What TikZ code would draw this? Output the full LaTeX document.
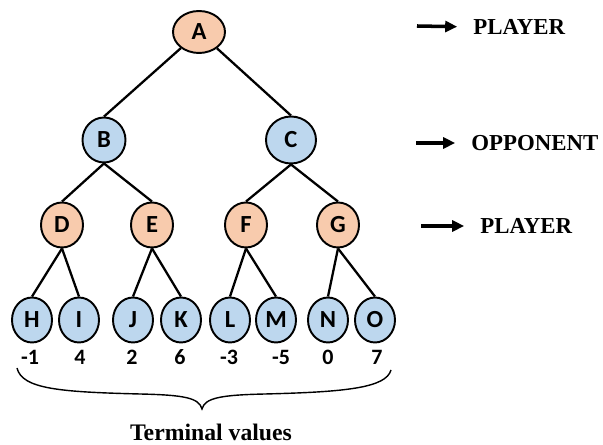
\documentclass[tikz,border=0pt]{standalone}
\usepackage{fontspec}
\setmainfont{Liberation Serif}
\newfontfamily\nodefont{Carlito}
\usetikzlibrary{arrows.meta,shapes.geometric}
\definecolor{maxOrange}{HTML}{F8CBAD}
\definecolor{minBlue}{HTML}{BDD7EE}

\begin{document}
\begin{tikzpicture}[x=0.02cm, y=-0.02cm,
  tnode/.style={draw, ellipse, line width=1.1pt, inner sep=1pt, minimum width=0.84cm, minimum height=0.9cm, font=\nodefont\bfseries\fontsize{14}{16}\selectfont},
  maxn/.style={tnode, fill=maxOrange},
  minn/.style={tnode, fill=minBlue},
  leaf/.style={minn, minimum width=0.8cm},
  link/.style={line width=1.3pt},
  val/.style={font=\nodefont\bfseries\fontsize{12.5}{14}\selectfont},
  role/.style={anchor=west, inner sep=0pt, font=\bfseries\fontsize{13}{15}\selectfont},
  pointer/.style={-{Triangle[length=2.4mm,width=2.2mm]}, line width=2pt, shorten >=9pt},
  bracecurve/.style={line width=0.8pt}
]
\useasboundingbox (0,0) rectangle (603,445);
% tree levels
\node[maxn, minimum width=1.04cm, minimum height=0.84cm] (A) at (199,32) {A};
\node[minn, minimum width=0.86cm] (B) at (104,140) {B};
\node[minn, minimum width=1.0cm, minimum height=0.94cm] (C) at (291,140) {C};
\node[maxn] (D) at (62,225) {D};
\node[maxn] (E) at (152,225) {E};
\node[maxn] (F) at (246,225) {F};
\node[maxn] (G) at (338,225) {G};
\node[leaf] (H) at (32,320) {H};
\node[leaf] (I) at (79,320) {I};
\node[leaf] (J) at (133,320) {J};
\node[leaf] (K) at (181,320) {K};
\node[leaf] (L) at (230,320) {L};
\node[leaf] (M) at (276,320) {M};
\node[leaf] (N) at (328,320) {N};
\node[leaf] (O) at (375,320) {O};
% branches
\draw[link] (A) -- (B.north);
\draw[link] (A) -- (C.north);
\foreach \p/\c in {B/D,B/E,C/F,C/G,D/H,D/I,E/J,E/K,F/L,F/M,G/N,G/O}
  \draw[link] (\p.south) -- (\c.north);
% terminal values
\node[val] (vH) at (30,357) {-1};
\node[val] (vI) at (80,357) {4};
\node[val] (vJ) at (132,357) {2};
\node[val] (vK) at (180,357) {6};
\node[val] (vL) at (229,357) {-3};
\node[val] (vM) at (281,357) {-5};
\node[val] (vN) at (328,357) {0};
\node[val] (vO) at (377,357) {7};
% brace under the leaves
\coordinate (b1) at (17,368);
\coordinate (tip) at (202,409);
\coordinate (b2) at (391,370);
\draw[bracecurve] (b1) .. controls (22,389) and (60,392) .. (140,394)
  .. controls (185,395) and (199,398) .. (tip)
  .. controls (205,398) and (220,395) .. (265,394)
  .. controls (345,392) and (386,388) .. (b2);
\node[font=\bfseries\fontsize{13.5}{16}\selectfont] (term) at (211,432) {Terminal values};
% turn labels
\node[role] (r1) at (473,27) {PLAYER};
\node[role] (r2) at (471,143) {OPPONENT};
\node[role] (r3) at (480,226) {PLAYER};
\coordinate (p1) at (417,26);
\coordinate (p2) at (416,143);
\coordinate (p3) at (421,226);
\draw[pointer] (p1) -- (r1.west);
\draw[pointer] (p2) -- (r2.west);
\draw[pointer] (p3) -- (r3.west);
\end{tikzpicture}
\end{document}
